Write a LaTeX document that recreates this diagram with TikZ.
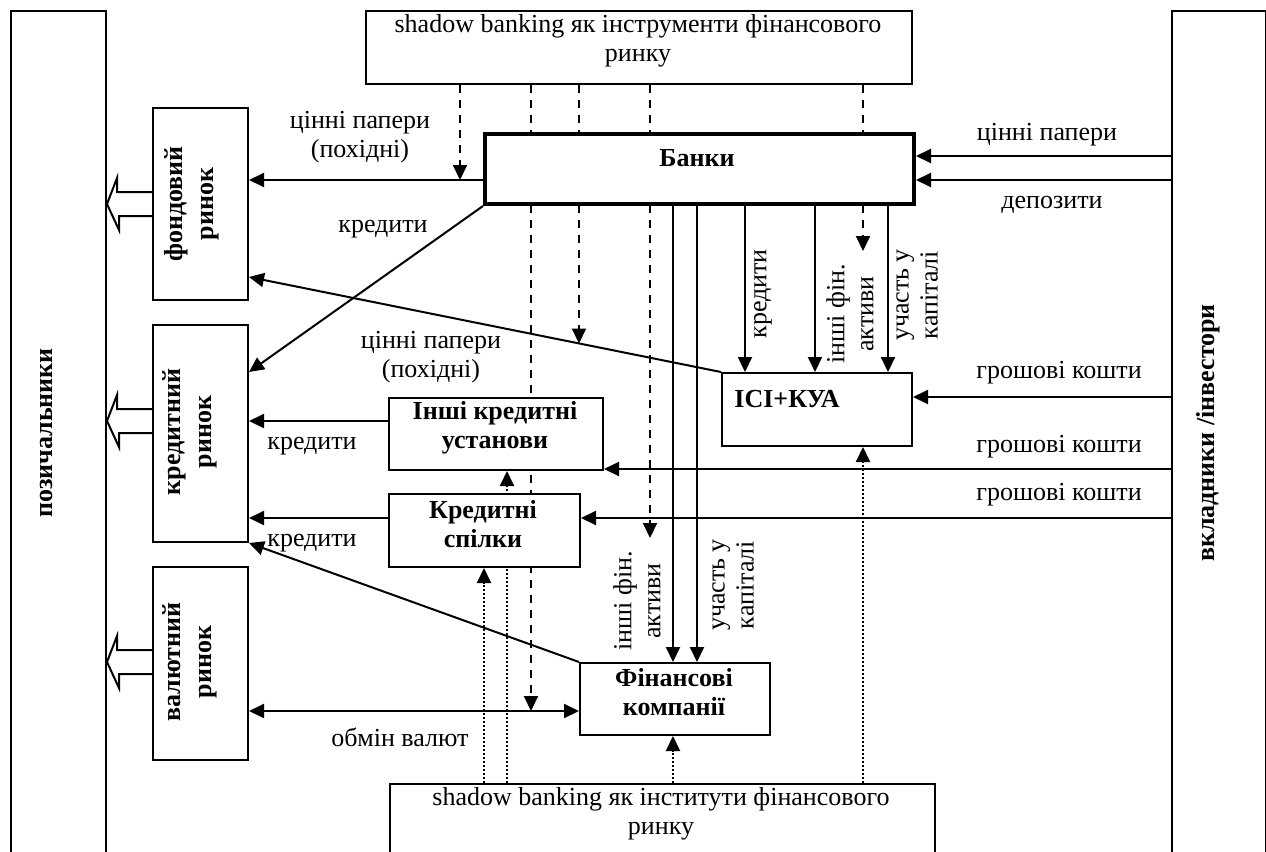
\documentclass[tikz,border=0pt]{standalone}
\usepackage{fontspec}
\setmainfont{Liberation Serif}
\usetikzlibrary{arrows.meta,calc}
\pgfdeclarelayer{bg}
\pgfsetlayers{bg,main}
\newcommand\hollowarrow[1]{\draw[line width=1pt,line join=miter] ([yshift=6pt]#1) -- ++(-35,0) -- ++(0,-14) -- (lb.east |- #1) -- ++(12,26) -- ++(0,-14) -- ([yshift=-6pt]#1);}
\begin{document}
\begin{tikzpicture}[x=0.5pt,y=-0.5pt,
 box/.style={draw,line width=1pt,fill=white,inner sep=0pt,anchor=north west},
 lbl/.style={font=\fontsize{13}{14.5}\selectfont,align=center,inner sep=0pt},
 blbl/.style={font=\fontsize{13}{14.5}\selectfont\bfseries,align=center,inner sep=0pt},
 vblbl/.style={font=\fontsize{13}{15.5}\selectfont\bfseries,align=center,inner sep=0pt,rotate=90},
 arr/.style={line width=1pt,-{Triangle[length=7.5pt,width=7pt]}},
 darr/.style={line width=1pt,{Triangle[length=7.5pt,width=7pt]}-{Triangle[length=7.5pt,width=7pt]}},
 dsh/.style={arr,dash pattern=on 4pt off 3.5pt},
 dot/.style={arr,dash pattern=on 1pt off 1pt},
]
\useasboundingbox (0,0) rectangle (1266,852);
\clip (0,0) rectangle (1266,852);
% boxes
\node[box,minimum width=47.5pt,minimum height=445pt] (lb) at (10,10) {};
\node[box,minimum width=47pt,minimum height=445pt] (rb) at (1171,10) {};
\node[box,minimum width=273pt,minimum height=36.5pt] (top) at (365,10) {};
\node[box,line width=2pt,minimum width=214.5pt,minimum height=35pt] (banky) at (483,132) {};
\node[box,minimum width=47.5pt,minimum height=96pt] (fond) at (152,107) {};
\node[box,minimum width=47.5pt,minimum height=108.5pt] (kred) at (152,324) {};
\node[box,minimum width=47.5pt,minimum height=96.5pt] (val) at (152,566) {};
\node[box,minimum width=95pt,minimum height=36.5pt] (ici) at (721,372) {};
\node[box,minimum width=107pt,minimum height=36pt] (inshi) at (388,397) {};
\node[box,minimum width=95.5pt,minimum height=36.5pt] (spilky) at (388,493) {};
\node[box,minimum width=95pt,minimum height=36pt] (fin) at (579,662) {};
\node[box,minimum width=272.5pt,minimum height=60pt] (bot) at (389,783) {};
% box texts
\node[vblbl] (tlb) at (47,433) {позичальники};
\node[vblbl] (trb) at (1208,433) {вкладники /інвестори};
\node[lbl] (ttop) at (638,41) {shadow banking як інструменти фінансового\\ринку};
\node[blbl] (tbanky) at (697,158) {Банки};
\node[vblbl] (tfond) at (192,204) {фондовий\\ринок};
\node[vblbl] (tkred) at (190,432) {кредитний\\ринок};
\node[vblbl] (tval) at (190,662) {валютний\\ринок};
\node[blbl] (tici) at (787,399) {ІСІ+КУА};
\node[blbl] (tinshi) at (495,428) {Інші кредитні\\установи};
\node[blbl] (tspilky) at (483,524) {Кредитні\\спілки};
\node[blbl] (tfin) at (674,692) {Фінансові\\компанії};
\node[lbl] (tbot) at (661,814) {shadow banking як інститути фінансового\\ринку};
% levels
\coordinate (h156) at (0,156);
\coordinate (h180) at (0,180);
\coordinate (h204) at (0,204);
\coordinate (h277) at (0,277);
\coordinate (h372) at (0,372);
\coordinate (h397) at (0,397);
\coordinate (h421) at (0,421);
\coordinate (h469) at (0,469);
\coordinate (h518) at (0,518);
\coordinate (h662) at (0,662);
\coordinate (h711) at (0,711);
\coordinate (v460) at (460,0);
\coordinate (v484) at (484,0);
\coordinate (v507) at (507,0);
\coordinate (v531) at (531,0);
\coordinate (v579) at (579,0);
\coordinate (v650) at (650,0);
\coordinate (v673) at (673,0);
\coordinate (v697) at (697,0);
\coordinate (v745) at (745,0);
\coordinate (v815) at (815,0);
\coordinate (v863) at (863,0);
\coordinate (v888) at (888,0);
\coordinate (e650) at (650,538);
\coordinate (e863) at (863,251);
\coordinate (m579) at (579,343.5);
\coordinate (fh) at (fond.west |- h204);
\coordinate (kh) at (kred.west |- h421);
\coordinate (vh) at (val.west |- h662);
% background: white and pass-through lines
\begin{pgfonlayer}{bg}
\fill[white] (0,0) rectangle (1266,852);
\draw[dsh] (top.south -| v460) -- (h180 -| v460);
\draw[dsh] (top.south -| v531) -- (h711 -| v531);
\draw[dsh] (top.south -| v579) -- (m579);
\draw[dsh] (top.south -| v650) -- (e650);
\draw[dsh] (top.south -| v863) -- (e863);
\draw[dot] (bot.north -| v484) -- (spilky.south -| v484);
\draw[dot] (bot.north -| v507) -- (inshi.south -| v507);
\draw[dot] (bot.north -| v673) -- (fin.south -| v673);
\draw[dot] (bot.north -| v863) -- (ici.south -| v863);
\end{pgfonlayer}
% hollow arrows to borrowers
\hollowarrow{fh}
\hollowarrow{kh}
\hollowarrow{vh}
% connectors
\draw[arr] (banky.west |- h180) -- (fond.east |- h180);
\draw[arr] (banky.south west) -- (kred.east |- h372);
\draw[arr] (ici.north west) -- (fond.east |- h277);
\draw[arr] (inshi.west |- h421) -- (kred.east |- h421);
\draw[arr] (spilky.west |- h518) -- (kred.east |- h518);
\draw[arr] (fin.north west) -- (kred.south east);
\draw[darr] (val.east |- h711) -- (fin.west |- h711);
\draw[arr] (banky.south -| v673) -- (fin.north -| v673);
\draw[arr] (banky.south -| v697) -- (fin.north -| v697);
\draw[arr] (banky.south -| v745) -- (ici.north -| v745);
\draw[arr] (banky.south -| v815) -- (ici.north -| v815);
\draw[arr] (banky.south -| v888) -- (ici.north -| v888);
\draw[arr] (rb.west |- h156) -- (banky.east |- h156);
\draw[arr] (rb.west |- h180) -- (banky.east |- h180);
\draw[arr] (rb.west |- h397) -- (ici.east |- h397);
\draw[arr] (rb.west |- h469) -- (inshi.east |- h469);
\draw[arr] (rb.west |- h518) -- (spilky.east |- h518);
% labels
\node[lbl] (l1) at (360,137) {цінні папери\\(похідні)};
\node[lbl] (l2) at (383,229) {кредити};
\node[lbl] (l3) at (431,357) {цінні папери\\(похідні)};
\node[lbl] (l4) at (312,446) {кредити};
\node[lbl] (l5) at (312,543) {кредити};
\node[lbl] (l6) at (400,737) {обмін валют};
\node[lbl,rotate=90] (l7) at (637,601) {інші фін.\\активи};
\node[lbl,rotate=90] (l8) at (733,585) {участь у\\капіталі};
\node[lbl,rotate=90] (l9) at (763,294) {кредити};
\node[lbl,rotate=90] (l10) at (850,314) {інші фін.\\активи};
\node[lbl,rotate=90] (l11) at (917,295) {участь у\\капіталі};
\node[lbl] (l12) at (1047,135) {цінні папери};
\node[lbl] (l13) at (1052,205) {депозити};
\node[lbl] (l14) at (1059,373) {грошові кошти};
\node[lbl] (l15) at (1059,447) {грошові кошти};
\node[lbl] (l16) at (1059,495) {грошові кошти};
\end{tikzpicture}
\end{document}
